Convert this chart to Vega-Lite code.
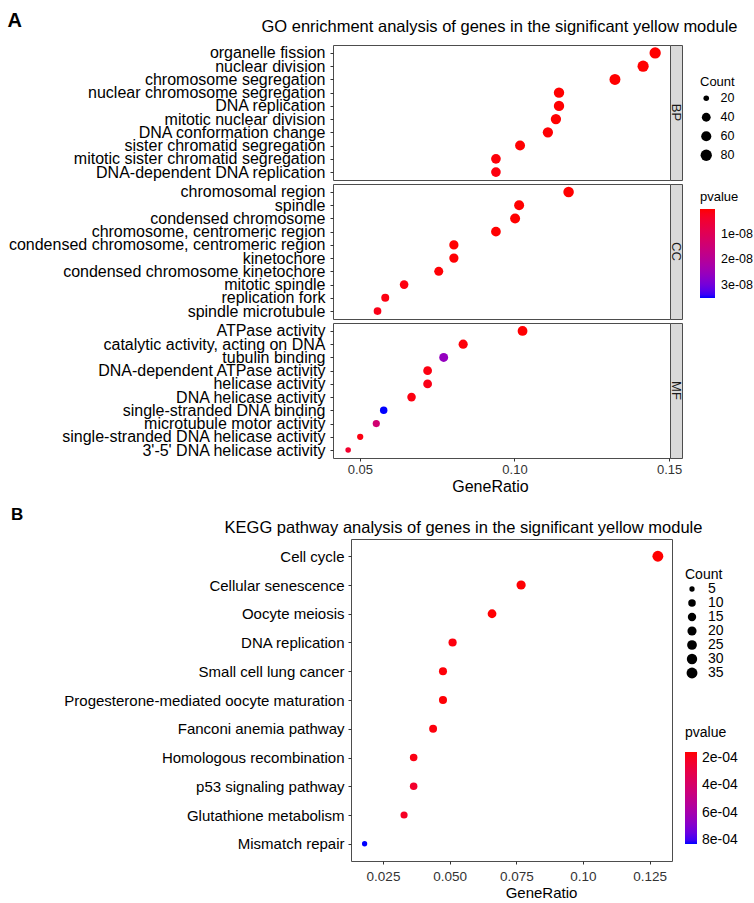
{
  "$schema": "https://vega.github.io/schema/vega-lite/v6.json",
  "padding": {"left": 6, "top": 9, "right": 0, "bottom": 0},
  "datasets": {
    "go": [
      {"ont": "BP", "term": "organelle fission", "ratio": 0.1455, "count": 81, "p": 1e-12},
      {"ont": "BP", "term": "nuclear division", "ratio": 0.1416, "count": 79, "p": 1e-12},
      {"ont": "BP", "term": "chromosome segregation", "ratio": 0.1325, "count": 74, "p": 5e-12},
      {"ont": "BP", "term": "nuclear chromosome segregation", "ratio": 0.1144, "count": 64, "p": 2e-11},
      {"ont": "BP", "term": "DNA replication", "ratio": 0.1144, "count": 64, "p": 3e-11},
      {"ont": "BP", "term": "mitotic nuclear division", "ratio": 0.1134, "count": 63, "p": 1e-11},
      {"ont": "BP", "term": "DNA conformation change", "ratio": 0.1108, "count": 62, "p": 2e-10},
      {"ont": "BP", "term": "sister chromatid segregation", "ratio": 0.1018, "count": 57, "p": 1e-10},
      {"ont": "BP", "term": "mitotic sister chromatid segregation", "ratio": 0.094, "count": 53, "p": 5e-10},
      {"ont": "BP", "term": "DNA-dependent DNA replication", "ratio": 0.094, "count": 53, "p": 8e-10},
      {"ont": "CC", "term": "chromosomal region", "ratio": 0.1175, "count": 67, "p": 1e-12},
      {"ont": "CC", "term": "spindle", "ratio": 0.1015, "count": 58, "p": 2e-11},
      {"ont": "CC", "term": "condensed chromosome", "ratio": 0.1002, "count": 57, "p": 1e-11},
      {"ont": "CC", "term": "chromosome, centromeric region", "ratio": 0.094, "count": 54, "p": 5e-11},
      {"ont": "CC", "term": "condensed chromosome, centromeric region", "ratio": 0.0804, "count": 46, "p": 1e-10},
      {"ont": "CC", "term": "kinetochore", "ratio": 0.0804, "count": 46, "p": 2e-10},
      {"ont": "CC", "term": "condensed chromosome kinetochore", "ratio": 0.0755, "count": 43, "p": 3e-10},
      {"ont": "CC", "term": "mitotic spindle", "ratio": 0.0643, "count": 37, "p": 8e-10},
      {"ont": "CC", "term": "replication fork", "ratio": 0.0582, "count": 33, "p": 1e-9},
      {"ont": "CC", "term": "spindle microtubule", "ratio": 0.0557, "count": 32, "p": 1.5e-9},
      {"ont": "MF", "term": "ATPase activity", "ratio": 0.1026, "count": 55, "p": 1e-10},
      {"ont": "MF", "term": "catalytic activity, acting on DNA", "ratio": 0.0834, "count": 45, "p": 5e-10},
      {"ont": "MF", "term": "tubulin binding", "ratio": 0.0771, "count": 42, "p": 2.6e-8},
      {"ont": "MF", "term": "DNA-dependent ATPase activity", "ratio": 0.0719, "count": 39, "p": 1e-9},
      {"ont": "MF", "term": "helicase activity", "ratio": 0.0719, "count": 39, "p": 1.5e-9},
      {"ont": "MF", "term": "DNA helicase activity", "ratio": 0.0667, "count": 36, "p": 1e-9},
      {"ont": "MF", "term": "single-stranded DNA binding", "ratio": 0.0577, "count": 31, "p": 3.53e-8},
      {"ont": "MF", "term": "microtubule motor activity", "ratio": 0.0553, "count": 30, "p": 1.4e-8},
      {"ont": "MF", "term": "single-stranded DNA helicase activity", "ratio": 0.0501, "count": 27, "p": 1e-9},
      {"ont": "MF", "term": "3'-5' DNA helicase activity", "ratio": 0.0462, "count": 25, "p": 4e-9}
    ],
    "kegg": [
      {"term": "Cell cycle", "ratio": 0.1281, "count": 35, "p": 0.000156},
      {"term": "Cellular senescence", "ratio": 0.0768, "count": 21, "p": 0.00016},
      {"term": "Oocyte meiosis", "ratio": 0.0659, "count": 18, "p": 0.000158},
      {"term": "DNA replication", "ratio": 0.0511, "count": 14, "p": 0.00017},
      {"term": "Small cell lung cancer", "ratio": 0.0475, "count": 13, "p": 0.000165},
      {"term": "Progesterone-mediated oocyte maturation", "ratio": 0.0475, "count": 13, "p": 0.00016},
      {"term": "Fanconi anemia pathway", "ratio": 0.0438, "count": 12, "p": 0.00017},
      {"term": "Homologous recombination", "ratio": 0.0365, "count": 10, "p": 0.00018},
      {"term": "p53 signaling pathway", "ratio": 0.0365, "count": 10, "p": 0.00023},
      {"term": "Glutathione metabolism", "ratio": 0.0329, "count": 9, "p": 0.00021},
      {"term": "Mismatch repair", "ratio": 0.0181, "count": 5, "p": 0.00083}
    ]
  },
  "concat": [
    {
      "spacing": 2,
      "resolve": {"scale": {"x": "independent", "y": "independent", "color": "shared", "size": "shared"}},
      "vconcat": [
        {
          "spacing": 0,
          "bounds": "flush",
          "resolve": {"scale": {"y": "independent"}},
          "hconcat": [
            {
              "width": 337,
              "height": 135,
              "data": {"name": "go"},
              "transform": [{"filter": "datum.ont == 'BP'"}],
              "mark": {"type": "circle", "opacity": 1},
              "encoding": {
                "x": {"field": "ratio", "type": "quantitative", "scale": {"domain": [0.0413, 0.1503], "zero": false, "nice": false},
                  "axis": {"orient": "top", "labels": false, "ticks": false, "domain": false, "title": "GO enrichment analysis of genes in the  significant yellow module", "titleX": 166, "titleY": -14, "titleAlign": "center", "titleBaseline": "alphabetic", "titleFontSize": 16.5}},
                "y": {"field": "term", "type": "nominal", "sort": null, "scale": {"padding": 0.6},
                  "axis": {"title": "A", "titleAngle": 0, "titleAlign": "left", "titleBaseline": "alphabetic", "titleX": -326, "titleY": -19, "titleFontSize": 20, "titleFontWeight": "bold", "labelFontSize": 16, "labelPadding": 5}},
                "color": {"field": "p", "type": "quantitative",
                  "scale": {"domain": [3.53e-8, 0], "range": ["blue", "red"], "interpolate": "lab", "zero": false, "nice": false},
                  "legend": {"title": "pvalue", "orient": "none", "legendX": 367, "legendY": 146, "values": [1e-8, 2e-8, 3e-8], "labelExpr": "replace(format(datum.value, '.0e'), 'e-', 'e-0')", "gradientLength": 89, "gradientThickness": 15, "titleFontSize": 13, "labelFontSize": 12.5, "titlePadding": 5, "labelOffset": 6}},
                "size": {"field": "count", "type": "quantitative",
                  "scale": {"domain": [25, 35, 81], "range": [31, 72, 128], "zero": false, "clamp": true},
                  "legend": {"title": "Count", "orient": "none", "legendX": 367, "legendY": 31, "values": [20, 40, 60, 80], "symbolFillColor": "#000000", "symbolStrokeWidth": 0, "symbolOpacity": 1, "titleFontSize": 13, "labelFontSize": 12.5, "titlePadding": 3, "rowPadding": 6, "labelOffset": 8}}
              }
            },
            {
              "width": 12,
              "height": 135,
              "view": {"fill": "#D9D9D9", "stroke": "#4d4d4d"},
              "data": {"values": [{"ont": "BP"}]},
              "mark": {"type": "text", "angle": 90, "fontSize": 13, "color": "#1a1a1a", "align": "center", "baseline": "middle"},
              "encoding": {"y": {"field": "ont", "type": "nominal", "axis": null}, "text": {"field": "ont"}}
            }
          ]
        },
        {
          "spacing": 0,
          "bounds": "flush",
          "resolve": {"scale": {"y": "independent"}},
          "hconcat": [
            {
              "width": 337,
              "height": 135,
              "data": {"name": "go"},
              "transform": [{"filter": "datum.ont == 'CC'"}],
              "mark": {"type": "circle", "opacity": 1},
              "encoding": {
                "x": {"field": "ratio", "type": "quantitative", "scale": {"domain": [0.0413, 0.1503], "zero": false, "nice": false}, "axis": null},
                "y": {"field": "term", "type": "nominal", "sort": null, "scale": {"padding": 0.6},
                  "axis": {"title": null, "labelFontSize": 16, "labelPadding": 5}},
                "color": {"field": "p", "type": "quantitative",
                  "scale": {"domain": [3.53e-8, 0], "range": ["blue", "red"], "interpolate": "lab", "zero": false, "nice": false}},
                "size": {"field": "count", "type": "quantitative",
                  "scale": {"domain": [25, 35, 81], "range": [31, 72, 128], "zero": false, "clamp": true}}
              }
            },
            {
              "width": 12,
              "height": 135,
              "view": {"fill": "#D9D9D9", "stroke": "#4d4d4d"},
              "data": {"values": [{"ont": "CC"}]},
              "mark": {"type": "text", "angle": 90, "fontSize": 13, "color": "#1a1a1a", "align": "center", "baseline": "middle"},
              "encoding": {"y": {"field": "ont", "type": "nominal", "axis": null}, "text": {"field": "ont"}}
            }
          ]
        },
        {
          "spacing": 0,
          "bounds": "flush",
          "resolve": {"scale": {"y": "independent"}},
          "hconcat": [
            {
              "width": 337,
              "height": 135,
              "data": {"name": "go"},
              "transform": [{"filter": "datum.ont == 'MF'"}],
              "mark": {"type": "circle", "opacity": 1},
              "encoding": {
                "x": {"field": "ratio", "type": "quantitative", "scale": {"domain": [0.0413, 0.1503], "zero": false, "nice": false},
                  "axis": {"values": [0.05, 0.1, 0.15], "format": ".2f", "labelFontSize": 13, "labelColor": "#333333", "labelPadding": 2, "labelFlush": false, "title": "GeneRatio", "titleFontSize": 16, "titlePadding": 2, "titleX": 157}},
                "y": {"field": "term", "type": "nominal", "sort": null, "scale": {"padding": 0.6},
                  "axis": {"title": null, "labelFontSize": 16, "labelPadding": 5}},
                "color": {"field": "p", "type": "quantitative",
                  "scale": {"domain": [3.53e-8, 0], "range": ["blue", "red"], "interpolate": "lab", "zero": false, "nice": false}},
                "size": {"field": "count", "type": "quantitative",
                  "scale": {"domain": [25, 35, 81], "range": [31, 72, 128], "zero": false, "clamp": true}}
              }
            },
            {
              "width": 12,
              "height": 135,
              "view": {"fill": "#D9D9D9", "stroke": "#4d4d4d"},
              "data": {"values": [{"ont": "MF"}]},
              "mark": {"type": "text", "angle": 90, "fontSize": 13, "color": "#1a1a1a", "align": "center", "baseline": "middle"},
              "encoding": {"y": {"field": "ont", "type": "nominal", "axis": null}, "text": {"field": "ont"}}
            }
          ]
        }
      ]
    },
    {
      "spacing": 0,
      "bounds": "flush",
      "resolve": {"legend": {"color": "independent", "size": "independent"}},
      "hconcat": [
        {
          "width": 18,
          "height": 322,
          "view": {"stroke": null},
          "title": {"text": "B", "anchor": "start", "frame": "group", "dx": -322, "offset": 2, "baseline": "alphabetic", "fontSize": 17, "fontWeight": "bold", "color": "#000000"},
          "data": {"values": [{"t": ""}]},
          "mark": {"type": "text"},
          "encoding": {"text": {"field": "t"}}
        },
        {
          "width": 321,
          "height": 322,
          "data": {"name": "kegg"},
          "mark": {"type": "circle", "opacity": 1},
          "encoding": {
            "x": {"field": "ratio", "type": "quantitative", "scale": {"domain": [0.013, 0.1334], "zero": false, "nice": false},
              "axis": {"values": [0.025, 0.05, 0.075, 0.1, 0.125], "labelExpr": "datum.value == 0.1 ? '0.10' : format(datum.value, '.3f')", "labelFontSize": 13.5, "labelColor": "#333333", "labelPadding": 5, "labelFlush": false, "title": "GeneRatio", "titleFontSize": 15, "titlePadding": 3, "titleX": 190}},
            "y": {"field": "term", "type": "nominal", "sort": null, "scale": {"padding": 0.6},
              "axis": {"title": "KEGG pathway analysis of genes in the  significant yellow module", "titleAngle": 0, "titleAlign": "center", "titleBaseline": "alphabetic", "titleX": 112, "titleY": -7, "titleFontSize": 16.5, "labelFontSize": 15, "labelPadding": 4}},
            "color": {"field": "p", "type": "quantitative",
              "scale": {"domain": [0.00083, 0.000156], "range": ["blue", "red"], "interpolate": "lab", "zero": false, "nice": false},
              "legend": {"title": "pvalue", "orient": "none", "legendX": 334, "legendY": 187, "values": [0.0002, 0.0004, 0.0006, 0.0008], "labelExpr": "replace(format(datum.value, '.0e'), 'e-', 'e-0')", "gradientLength": 92, "gradientThickness": 12, "titleFontSize": 14, "labelFontSize": 14, "titlePadding": 12, "labelOffset": 5}},
            "size": {"field": "count", "type": "quantitative",
              "scale": {"domain": [5, 10, 20, 35], "range": [28, 57, 83, 119], "zero": false},
              "legend": {"title": "Count", "orient": "none", "legendX": 334, "legendY": 29, "values": [5, 10, 15, 20, 25, 30, 35], "symbolFillColor": "#000000", "symbolStrokeWidth": 0, "symbolOpacity": 1, "titleFontSize": 14, "labelFontSize": 14, "titlePadding": 0, "rowPadding": 0, "labelOffset": 9}}
          }
        }
      ]
    }
  ],
  "columns": 1,
  "align": "none",
  "spacing": 11,
  "resolve": {"scale": {"color": "independent", "size": "independent"}, "legend": {"color": "independent", "size": "independent"}},
  "config": {
    "font": "Liberation Sans",
    "background": "#ffffff",
    "view": {"stroke": "#4d4d4d", "strokeWidth": 1},
    "axis": {"grid": false, "domain": false, "tickColor": "#333333", "tickSize": 3, "labelColor": "#000000", "titleColor": "#000000", "titleFontWeight": "normal", "labelOverlap": false, "labelLimit": 400},
    "legend": {"padding": 0, "labelColor": "#000000", "titleColor": "#000000", "titleFontWeight": "normal", "gradientStrokeWidth": 0}
  }
}
